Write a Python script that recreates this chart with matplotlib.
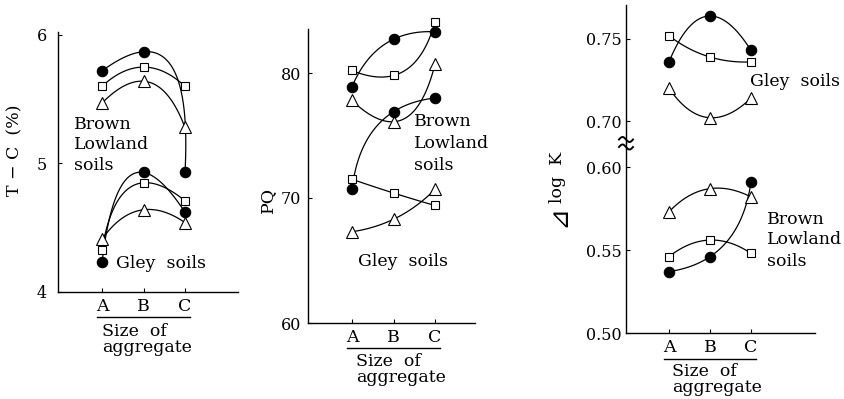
import numpy as np
import matplotlib
matplotlib.use("Agg")
import matplotlib.pyplot as plt
from matplotlib.lines import Line2D
from matplotlib.transforms import blended_transform_factory

# ---------------------------------------------------------------- data
sizes = ["A", "B", "C"]
size_pos = [1, 2, 3]

# Total carbon, T-C (%)
tc_brown_circle = [5.72, 5.87, 4.93]
tc_brown_square = [5.60, 5.75, 5.60]
tc_brown_triangle = [5.47, 5.64, 5.28]
tc_gley_circle = [4.23, 4.93, 4.62]
tc_gley_square = [4.33, 4.85, 4.71]
tc_gley_triangle = [4.41, 4.64, 4.54]

# PQ
pq_brown_circle = [78.9, 82.7, 83.3]
pq_brown_square = [80.2, 79.8, 84.1]
pq_brown_triangle = [77.8, 76.1, 80.7]
pq_gley_circle = [70.7, 76.9, 78.0]
pq_gley_square = [71.5, 70.4, 69.4]
pq_gley_triangle = [67.3, 68.3, 70.7]

# delta log K
dlk_gley_circle = [0.736, 0.764, 0.743]
dlk_gley_square = [0.752, 0.739, 0.736]
dlk_gley_triangle = [0.720, 0.702, 0.714]
dlk_brown_circle = [0.537, 0.546, 0.591]
dlk_brown_square = [0.546, 0.556, 0.548]
dlk_brown_triangle = [0.573, 0.587, 0.582]

tc_ticks = [4, 5, 6]
pq_ticks = [60, 70, 80]
dlk_ticks_upper = [0.70, 0.75]
dlk_ticks_lower = [0.50, 0.55, 0.60]

# ---------------------------------------------------------------- style
W, H = 844, 399
FONT = "DejaVu Serif"
plt.rcParams["font.family"] = [FONT, "DejaVu Sans"]
plt.rcParams["axes.linewidth"] = 1.0

fig = plt.figure(figsize=(W / 100, H / 100), dpi=100)
fig.patch.set_facecolor("white")

MARKERS = {
    "circle": dict(marker="o", ms=7.5, mfc="black", mec="black", mew=0.8),
    "square": dict(marker="s", ms=6.0, mfc="white", mec="black", mew=0.8),
    "triangle": dict(marker="^", ms=8.5, mfc="white", mec="black", mew=0.8),
}


def px_axes(l, r, t, b):
    return fig.add_axes([l / W, 1 - b / H, (r - l) / W, (b - t) / H])


def ftext(x, y, s, **kw):
    kw.setdefault("fontsize", 11.5)
    return fig.text(x / W, 1 - y / H, s, **kw)


def style(ax, yticks, fmt, pad, bottom=True):
    for s in ("top", "right"):
        ax.spines[s].set_visible(False)
    if not bottom:
        ax.spines["bottom"].set_visible(False)
        ax.set_xticks([])
    else:
        ax.set_xticks(size_pos)
        ax.set_xticklabels(sizes, fontsize=12.5)
        ax.tick_params(axis="x", direction="in", length=3, width=0.8, pad=4)
    ax.set_yticks(yticks)
    ax.set_yticklabels([fmt.format(v) for v in yticks], fontsize=11.5)
    ax.tick_params(axis="y", direction="in", length=3, width=0.8, pad=pad)
    ax.patch.set_alpha(0)


def smooth_series(ax, ys, kind):
    """Smooth parametric quadratic through the three points (screen space)."""
    pts = ax.transData.transform(np.column_stack([size_pos, ys]))
    d = np.hypot(*np.diff(pts, axis=0).T)
    t = np.concatenate([[0.0], np.cumsum(d)]) / d.sum()
    tt = np.linspace(0, 1, 80)
    px = np.polyval(np.polyfit(t, pts[:, 0], 2), tt)
    py = np.polyval(np.polyfit(t, pts[:, 1], 2), tt)
    curve = ax.transData.inverted().transform(np.column_stack([px, py]))
    ax.plot(curve[:, 0], curve[:, 1], color="black", lw=0.9, zorder=2,
            clip_on=False)
    ax.plot(size_pos, ys, ls="none", zorder=3, clip_on=False, **MARKERS[kind])


def size_caption(ax, y_line, x_text, y1, y2):
    tr = blended_transform_factory(ax.transData, fig.transFigure)
    ax.add_line(Line2D([0.88, 3.12], [1 - y_line / H] * 2, transform=tr,
                       color="black", lw=1.0, clip_on=False))
    ftext(x_text, y1, "Size  of", fontsize=12.5, va="center", ha="left")
    ftext(x_text, y2, "aggregate", fontsize=12.5, va="center", ha="left")


# ---------------------------------------------------------------- T-C panel
ax1 = px_axes(58, 238, 32, 292)
ax1.set_xlim(1 - 44 / 41.5, 1 + (238 - 102) / 41.5)
ax1.set_ylim(4, 6.023)
style(ax1, tc_ticks, "{:d}", pad=8)
for ys, k in [(tc_brown_circle, "circle"), (tc_brown_square, "square"),
              (tc_brown_triangle, "triangle"), (tc_gley_circle, "circle"),
              (tc_gley_square, "square"), (tc_gley_triangle, "triangle")]:
    smooth_series(ax1, ys, k)
ftext(74, 125, "Brown", fontsize=12.5, va="center")
ftext(74, 145, "Lowland", fontsize=12.5, va="center")
ftext(74, 166, "soils", fontsize=12.5, va="center")
ftext(116, 263, "Gley  soils", fontsize=12.5, va="center")
ftext(15, 150, "T − C  (%)", fontsize=12.5, rotation=90, ha="center",
      va="center")
size_caption(ax1, 317, 102, 332, 348)

# ---------------------------------------------------------------- PQ panel
ax2 = px_axes(308, 475, 29, 323)
ax2.set_xlim(1 - 44 / 41.5, 1 + (475 - 352) / 41.5)
ax2.set_ylim(60, 83.52)
style(ax2, pq_ticks, "{:d}", pad=5)
for ys, k in [(pq_brown_circle, "circle"), (pq_brown_square, "square"),
              (pq_brown_triangle, "triangle"), (pq_gley_circle, "circle"),
              (pq_gley_square, "square"), (pq_gley_triangle, "triangle")]:
    smooth_series(ax2, ys, k)
ftext(414, 122, "Brown", fontsize=12.5, va="center")
ftext(414, 143, "Lowland", fontsize=12.5, va="center")
ftext(414, 166, "soils", fontsize=12.5, va="center")
ftext(358, 262, "Gley  soils", fontsize=12.5, va="center")
ftext(268, 200, "PQ", fontsize=12.5, rotation=90, ha="center", va="center")
size_caption(ax2, 348, 356, 361, 377)

# ---------------------------------------------------------------- delta log K panel (broken axis)
ax3u = px_axes(626, 815, 5, 143)
ax3l = px_axes(626, 815, 143, 333)
xl3 = (1 - 43 / 41, 1 + (815 - 669) / 41)
ax3u.set_xlim(*xl3)
ax3l.set_xlim(*xl3)
ax3u.set_ylim(0.6866, 0.7707)
ax3l.set_ylim(0.50, 0.6145)
style(ax3u, dlk_ticks_upper, "{:.2f}", pad=3, bottom=False)
style(ax3l, dlk_ticks_lower, "{:.2f}", pad=3)
for ys, k in [(dlk_gley_circle, "circle"), (dlk_gley_square, "square"),
              (dlk_gley_triangle, "triangle")]:
    smooth_series(ax3u, ys, k)
for ys, k in [(dlk_brown_circle, "circle"), (dlk_brown_square, "square"),
              (dlk_brown_triangle, "triangle")]:
    smooth_series(ax3l, ys, k)

# break mark on the value axis
u = np.linspace(-1, 1, 40)
for yc in (139.5, 147.0):
    xs = 626 + 7 * u
    ys = yc + 2.5 * np.sin(np.pi * u)
    fig.add_artist(Line2D(xs / W, 1 - ys / H, transform=fig.transFigure,
                          color="black", lw=1.4))

ftext(750, 81, "Gley  soils", fontsize=12.5, va="center")
ftext(767, 219, "Brown", fontsize=12.5, va="center")
ftext(767, 240, "Lowland", fontsize=12.5, va="center")
ftext(767, 261, "soils", fontsize=12.5, va="center")
ftext(558, 216, "⊿", fontsize=19, rotation=90, ha="center", va="center",
      family=["DejaVu Sans"])
ftext(558, 177, "log  K", fontsize=12.5, rotation=90, ha="center",
      va="center")
size_caption(ax3l, 359, 672, 372, 388)

fig.savefig("out.png", dpi=100, facecolor="white")
